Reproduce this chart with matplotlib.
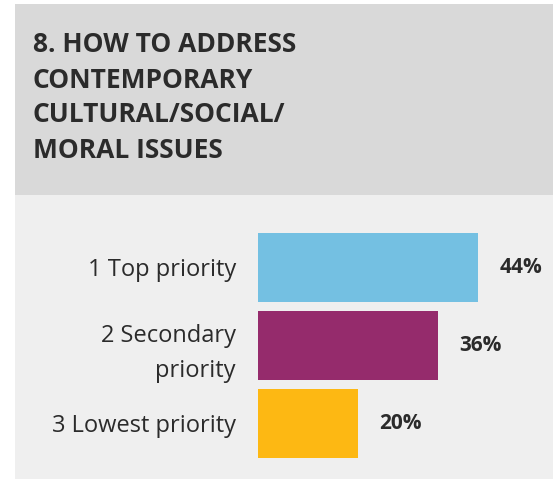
import matplotlib
matplotlib.use("Agg")
import matplotlib.pyplot as plt
from matplotlib.patches import Rectangle

title_lines = ["8. HOW TO ADDRESS", "CONTEMPORARY", "CULTURAL/SOCIAL/", "MORAL ISSUES"]
categories = ["1 Top priority", "2 Secondary\npriority", "3 Lowest priority"]
values = [44, 36, 20]
value_labels = ["44%", "36%", "20%"]
colors = ["#74c0e2", "#952b6c", "#fdb813"]

W, H = 553, 479
fig = plt.figure(figsize=(W / 100, H / 100), dpi=100)
fig.patch.set_facecolor("white")

def px(x, y):
    return x / W, 1 - y / H

# header & panel backgrounds
fig.patches.append(Rectangle((15 / W, 1 - 195 / H), 1, 191 / H, transform=fig.transFigure,
                             facecolor="#d9d9d9", edgecolor="none", zorder=-2))
fig.patches.append(Rectangle((15 / W, 0), 1, 1 - 195 / H, transform=fig.transFigure,
                             facecolor="#efefef", edgecolor="none", zorder=-2))

# title
ys = [45, 80, 115, 151]
for line, y in zip(title_lines, ys):
    fig.text(*px(33, y), line, fontsize=19, fontweight="bold", family="Open Sans",
             color="#2b2b2b", ha="left", va="center")

# axes
ax = fig.add_axes([258 / W, 1 - 478 / H, (W - 258) / W, (478 - 200) / H], zorder=5)
ax.set_facecolor("none")
ax.patch.set_alpha(0)
ax.set_xlim(0, (W - 258) / 5)
top = (200 - 267.5) / 78
bot = (478 - 267.5) / 78
ax.set_ylim(bot, top)
pos = list(range(len(values)))
ax.barh(pos, values, height=69 / 78, color=colors)
for p, v, lab in zip(pos, values, value_labels):
    ax.text(v + 4.3, p, lab, fontsize=15, fontweight="bold", family="Open Sans",
            color="#2b2b2b", ha="left", va="center")
ax.set_yticks(pos)
ax.set_yticklabels(categories, fontsize=17, family="Open Sans", color="#2b2b2b",
                   linespacing=1.6)
ax.tick_params(axis="y", length=0, pad=16)
ax.set_xticks([])
for s in ax.spines.values():
    s.set_visible(False)

fig.savefig("out.png", dpi=100, facecolor="white")
